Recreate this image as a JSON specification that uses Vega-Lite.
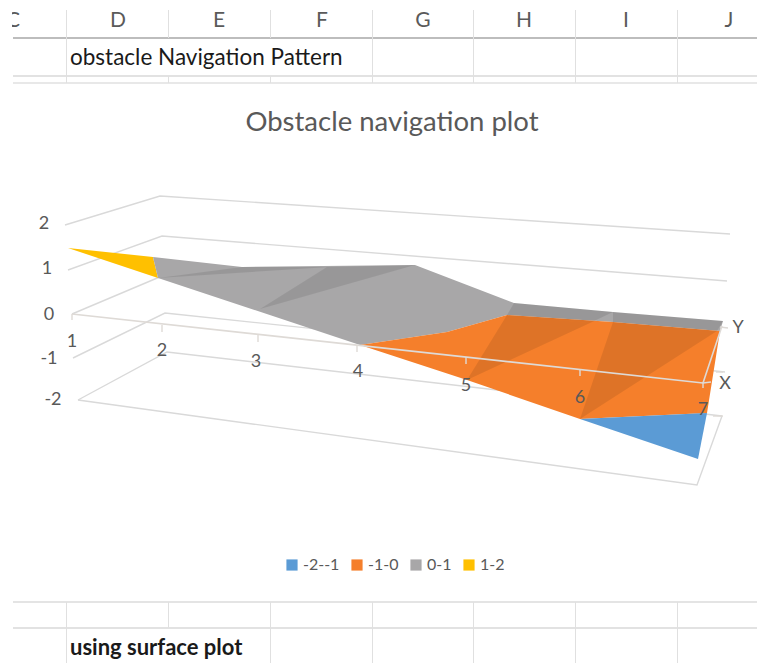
{
  "$schema": "https://vega.github.io/schema/vega-lite/v6.json",
  "autosize": {"type": "fit", "contains": "padding"},
  "width": 759,
  "height": 664,
  "padding": 0,
  "background": "#ffffff",
  "view": {"stroke": null},
  "datasets": {
    "sheetLines": [
      {"h": 13, "h2": 757, "v": 38, "v2": 38, "weight": 2.2, "shade": "#bdbdbd"},
      {"h": 13, "h2": 757, "v": 76, "v2": 76, "weight": 2, "shade": "#e2e2e2"},
      {"h": 13, "h2": 757, "v": 83, "v2": 83, "weight": 2, "shade": "#e8e8e8"},
      {"h": 13, "h2": 757, "v": 602, "v2": 602, "weight": 2, "shade": "#e4e4e4"},
      {"h": 13, "h2": 757, "v": 628, "v2": 628, "weight": 2, "shade": "#e2e2e2"},
      {"h": 66.5, "h2": 66.5, "v": 10, "v2": 38, "weight": 1, "shade": "#e0e0e0"},
      {"h": 168.5, "h2": 168.5, "v": 10, "v2": 38, "weight": 1, "shade": "#e0e0e0"},
      {"h": 270.5, "h2": 270.5, "v": 10, "v2": 38, "weight": 1, "shade": "#e0e0e0"},
      {"h": 372.5, "h2": 372.5, "v": 10, "v2": 38, "weight": 1, "shade": "#e0e0e0"},
      {"h": 473.5, "h2": 473.5, "v": 10, "v2": 38, "weight": 1, "shade": "#e0e0e0"},
      {"h": 575.5, "h2": 575.5, "v": 10, "v2": 38, "weight": 1, "shade": "#e0e0e0"},
      {"h": 677.5, "h2": 677.5, "v": 10, "v2": 38, "weight": 1, "shade": "#e0e0e0"},
      {"h": 66.5, "h2": 66.5, "v": 38, "v2": 83, "weight": 1, "shade": "#e0e0e0"},
      {"h": 372.5, "h2": 372.5, "v": 38, "v2": 83, "weight": 1, "shade": "#e0e0e0"},
      {"h": 473.5, "h2": 473.5, "v": 38, "v2": 83, "weight": 1, "shade": "#e0e0e0"},
      {"h": 575.5, "h2": 575.5, "v": 38, "v2": 83, "weight": 1, "shade": "#e0e0e0"},
      {"h": 677.5, "h2": 677.5, "v": 38, "v2": 83, "weight": 1, "shade": "#e0e0e0"},
      {"h": 168.5, "h2": 168.5, "v": 76, "v2": 83, "weight": 1, "shade": "#e0e0e0"},
      {"h": 270.5, "h2": 270.5, "v": 76, "v2": 83, "weight": 1, "shade": "#e0e0e0"},
      {"h": 66.5, "h2": 66.5, "v": 602, "v2": 663, "weight": 1, "shade": "#e0e0e0"},
      {"h": 168.5, "h2": 168.5, "v": 602, "v2": 628, "weight": 1, "shade": "#e0e0e0"},
      {"h": 270.5, "h2": 270.5, "v": 602, "v2": 663, "weight": 1, "shade": "#e0e0e0"},
      {"h": 372.5, "h2": 372.5, "v": 602, "v2": 663, "weight": 1, "shade": "#e0e0e0"},
      {"h": 473.5, "h2": 473.5, "v": 602, "v2": 663, "weight": 1, "shade": "#e0e0e0"},
      {"h": 575.5, "h2": 575.5, "v": 602, "v2": 663, "weight": 1, "shade": "#e0e0e0"},
      {"h": 677.5, "h2": 677.5, "v": 602, "v2": 663, "weight": 1, "shade": "#e0e0e0"}
    ],
    "gridPaths": [
      {"path": "z2", "seq": 1, "h": 65, "v": 225},
      {"path": "z2", "seq": 2, "h": 160, "v": 196},
      {"path": "z2", "seq": 3, "h": 730, "v": 234},
      {"path": "z1", "seq": 1, "h": 68, "v": 270},
      {"path": "z1", "seq": 2, "h": 162, "v": 236},
      {"path": "z1", "seq": 3, "h": 727, "v": 281},
      {"path": "z0", "seq": 1, "h": 72, "v": 314},
      {"path": "z0", "seq": 2, "h": 162, "v": 276},
      {"path": "zm1", "seq": 1, "h": 73, "v": 358},
      {"path": "zm1", "seq": 2, "h": 165, "v": 313},
      {"path": "zm1", "seq": 3, "h": 725, "v": 372},
      {"path": "floor", "seq": 1, "h": 78, "v": 400},
      {"path": "floor", "seq": 2, "h": 167, "v": 352},
      {"path": "floor", "seq": 3, "h": 722, "v": 416},
      {"path": "front", "seq": 1, "h": 78, "v": 400},
      {"path": "front", "seq": 2, "h": 697, "v": 485},
      {"path": "front", "seq": 3, "h": 722, "v": 416}
    ],
    "surface": [
      {"facet": "a", "seq": 1, "band": "1-2", "h": 68, "v": 248},
      {"facet": "a", "seq": 2, "band": "1-2", "h": 153, "v": 257},
      {"facet": "a", "seq": 3, "band": "1-2", "h": 158, "v": 278},
      {"facet": "b", "seq": 1, "band": "0-1", "h": 153, "v": 257},
      {"facet": "b", "seq": 2, "band": "0-1", "h": 242, "v": 267},
      {"facet": "b", "seq": 3, "band": "0-1", "h": 415, "v": 265},
      {"facet": "b", "seq": 4, "band": "0-1", "h": 514, "v": 303},
      {"facet": "b", "seq": 5, "band": "0-1", "h": 613, "v": 312},
      {"facet": "b", "seq": 6, "band": "0-1", "h": 723, "v": 321},
      {"facet": "b", "seq": 7, "band": "0-1", "h": 720, "v": 331},
      {"facet": "b", "seq": 8, "band": "0-1", "h": 613, "v": 322},
      {"facet": "b", "seq": 9, "band": "0-1", "h": 507, "v": 315},
      {"facet": "b", "seq": 10, "band": "0-1", "h": 447, "v": 332},
      {"facet": "b", "seq": 11, "band": "0-1", "h": 360, "v": 345},
      {"facet": "b", "seq": 12, "band": "0-1", "h": 158, "v": 278},
      {"facet": "c", "seq": 1, "band": "-1-0", "h": 360, "v": 345},
      {"facet": "c", "seq": 2, "band": "-1-0", "h": 447, "v": 332},
      {"facet": "c", "seq": 3, "band": "-1-0", "h": 507, "v": 315},
      {"facet": "c", "seq": 4, "band": "-1-0", "h": 613, "v": 322},
      {"facet": "c", "seq": 5, "band": "-1-0", "h": 720, "v": 331},
      {"facet": "c", "seq": 6, "band": "-1-0", "h": 707, "v": 413},
      {"facet": "c", "seq": 7, "band": "-1-0", "h": 580, "v": 419},
      {"facet": "c", "seq": 8, "band": "-1-0", "h": 467, "v": 380},
      {"facet": "d", "seq": 1, "band": "-2--1", "h": 580, "v": 419},
      {"facet": "d", "seq": 2, "band": "-2--1", "h": 707, "v": 413},
      {"facet": "d", "seq": 3, "band": "-2--1", "h": 698, "v": 459}
    ],
    "shaded": [
      {"facet": "s1", "seq": 1, "h": 158, "v": 278},
      {"facet": "s1", "seq": 2, "h": 242, "v": 267},
      {"facet": "s1", "seq": 3, "h": 330, "v": 267},
      {"facet": "s2", "seq": 1, "h": 260, "v": 309},
      {"facet": "s2", "seq": 2, "h": 327, "v": 267},
      {"facet": "s2", "seq": 3, "h": 415, "v": 265},
      {"facet": "s3", "seq": 1, "h": 507, "v": 315},
      {"facet": "s3", "seq": 2, "h": 514, "v": 303},
      {"facet": "s3", "seq": 3, "h": 613, "v": 312},
      {"facet": "s3", "seq": 4, "h": 590, "v": 323},
      {"facet": "s4", "seq": 1, "h": 613, "v": 322},
      {"facet": "s4", "seq": 2, "h": 613, "v": 312},
      {"facet": "s4", "seq": 3, "h": 723, "v": 321},
      {"facet": "s4", "seq": 4, "h": 717, "v": 331},
      {"facet": "s5", "seq": 1, "h": 507, "v": 315},
      {"facet": "s5", "seq": 2, "h": 590, "v": 323},
      {"facet": "s5", "seq": 3, "h": 467, "v": 380},
      {"facet": "s6", "seq": 1, "h": 613, "v": 322},
      {"facet": "s6", "seq": 2, "h": 717, "v": 331},
      {"facet": "s6", "seq": 3, "h": 580, "v": 419}
    ],
    "ticks": [
      {"h": 72, "h2": 72, "v": 314, "v2": 320},
      {"h": 162, "h2": 162, "v": 325, "v2": 332},
      {"h": 258, "h2": 258, "v": 335, "v2": 342},
      {"h": 357, "h2": 357, "v": 345, "v2": 352},
      {"h": 466, "h2": 466, "v": 357, "v2": 364},
      {"h": 580, "h2": 580, "v": 369, "v2": 376},
      {"h": 703, "h2": 703, "v": 382, "v2": 388},
      {"h": 703, "h2": 711, "v": 383, "v2": 382},
      {"h": 720, "h2": 728, "v": 327, "v2": 328},
      {"h": 713, "h2": 723, "v": 416, "v2": 416},
      {"h": 716, "h2": 723, "v": 372, "v2": 372}
    ],
    "axisPaths": [
      {"path": "xAxis", "seq": 1, "h": 72, "v": 314},
      {"path": "xAxis", "seq": 2, "h": 703, "v": 383},
      {"path": "yAxis", "seq": 1, "h": 703, "v": 383},
      {"path": "yAxis", "seq": 2, "h": 722, "v": 326}
    ],
    "chartLabels": [
      {"label": "2", "h": 44, "v": 224},
      {"label": "1", "h": 47, "v": 269},
      {"label": "0", "h": 49, "v": 315},
      {"label": "-1", "h": 49, "v": 359},
      {"label": "-2", "h": 53, "v": 400},
      {"label": "1", "h": 72, "v": 342},
      {"label": "2", "h": 162, "v": 351},
      {"label": "3", "h": 256, "v": 362},
      {"label": "4", "h": 358, "v": 372},
      {"label": "5", "h": 466, "v": 386},
      {"label": "6", "h": 580, "v": 398},
      {"label": "7", "h": 703, "v": 410},
      {"label": "X", "h": 725, "v": 384},
      {"label": "Y", "h": 738, "v": 328}
    ],
    "headers": [
      {"label": "C", "h": 13, "v": 21},
      {"label": "D", "h": 118, "v": 21},
      {"label": "E", "h": 219, "v": 21},
      {"label": "F", "h": 322, "v": 21},
      {"label": "G", "h": 423, "v": 21},
      {"label": "H", "h": 524, "v": 21},
      {"label": "I", "h": 626, "v": 21},
      {"label": "J", "h": 729, "v": 21}
    ]
  },
  "encoding": {
    "x": {"field": "h", "type": "quantitative", "scale": {"domain": [0, 759], "nice": false, "zero": false}, "axis": null},
    "y": {"field": "v", "type": "quantitative", "scale": {"domain": [664, 0], "nice": false, "zero": false}, "axis": null}
  },
  "layer": [
    {
      "data": {"name": "sheetLines"},
      "mark": {"type": "rule"},
      "encoding": {
        "x2": {"field": "h2"},
        "y2": {"field": "v2"},
        "color": {"field": "shade", "type": "nominal", "scale": null, "legend": null},
        "strokeWidth": {"field": "weight", "type": "quantitative", "scale": null, "legend": null}
      }
    },
    {
      "data": {"name": "gridPaths"},
      "mark": {"type": "line", "color": "#d9d9d9", "strokeWidth": 1.4},
      "encoding": {
        "detail": {"field": "path"},
        "order": {"field": "seq", "type": "quantitative"}
      }
    },
    {
      "data": {"name": "surface"},
      "mark": {"type": "line", "interpolate": "linear-closed", "strokeWidth": 0, "strokeOpacity": 0},
      "encoding": {
        "detail": {"field": "facet"},
        "order": {"field": "seq", "type": "quantitative"},
        "fill": {
          "field": "band",
          "type": "nominal",
          "scale": {
            "domain": ["-2--1", "-1-0", "0-1", "1-2"],
            "range": ["#5b9bd5", "#f57f2b", "#a8a7a8", "#ffc000"]
          },
          "legend": {
            "title": null,
            "orient": "none",
            "legendX": 284,
            "legendY": 557,
            "direction": "horizontal",
            "columns": 4,
            "gridAlign": "none",
            "columnPadding": 9,
            "symbolType": "square",
            "symbolSize": 125,
            "symbolStrokeWidth": 0,
            "labelFont": "Lato",
            "labelFontSize": 16,
            "labelColor": "#595959",
            "labelOffset": 3
          }
        }
      }
    },
    {
      "data": {"name": "shaded"},
      "mark": {"type": "line", "interpolate": "linear-closed", "fill": "#000000", "fillOpacity": 0.09, "strokeWidth": 0, "strokeOpacity": 0},
      "encoding": {
        "detail": {"field": "facet"},
        "order": {"field": "seq", "type": "quantitative"}
      }
    },
    {
      "data": {"name": "axisPaths"},
      "mark": {"type": "line", "color": "#dedad6", "strokeWidth": 1.6},
      "encoding": {
        "detail": {"field": "path"},
        "order": {"field": "seq", "type": "quantitative"}
      }
    },
    {
      "data": {"name": "ticks"},
      "mark": {"type": "rule", "color": "#dedad6", "strokeWidth": 1.4},
      "encoding": {"x2": {"field": "h2"}, "y2": {"field": "v2"}}
    },
    {
      "data": {"name": "chartLabels"},
      "mark": {"type": "text", "font": "Lato", "fontSize": 18, "color": "#595959", "align": "center", "baseline": "middle"},
      "encoding": {"text": {"field": "label"}}
    },
    {
      "data": {"name": "headers"},
      "mark": {"type": "text", "font": "Lato", "fontSize": 21, "color": "#5a5a5a", "align": "center", "baseline": "middle"},
      "encoding": {"text": {"field": "label"}}
    },
    {
      "description": "White page margin that cuts off the partly scrolled column header on the left",
      "data": {"values": [{"h": 6, "v": 8, "v2": 34}]},
      "mark": {"type": "rule", "color": "#ffffff", "strokeWidth": 12},
      "encoding": {"y2": {"field": "v2"}}
    },
    {
      "data": {"values": [{"label": "Obstacle navigation plot", "h": 392, "v": 123}]},
      "mark": {"type": "text", "font": "Lato", "fontSize": 27.5, "color": "#595959", "align": "center", "baseline": "middle"},
      "encoding": {"text": {"field": "label"}}
    },
    {
      "data": {"values": [{"label": "obstacle Navigation Pattern", "h": 70, "v": 58}]},
      "mark": {"type": "text", "font": "Lato", "fontSize": 22.5, "color": "#1a1a1a", "align": "left", "baseline": "middle"},
      "encoding": {"text": {"field": "label"}}
    },
    {
      "data": {"values": [{"label": "using surface plot", "h": 70, "v": 648}]},
      "mark": {"type": "text", "font": "Lato", "fontSize": 22, "fontWeight": "bold", "color": "#1a1a1a", "align": "left", "baseline": "middle"},
      "encoding": {"text": {"field": "label"}}
    }
  ]
}
